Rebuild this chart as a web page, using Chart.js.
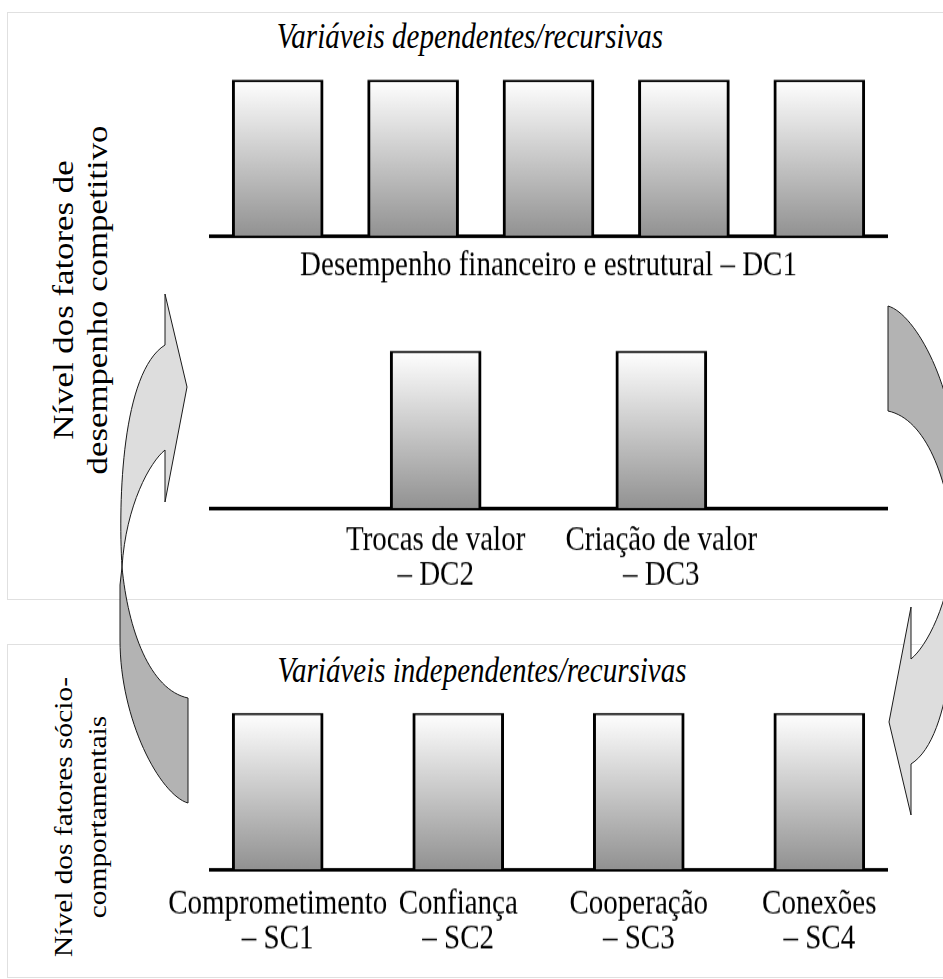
<!DOCTYPE html>
<html>
<head>
<meta charset="utf-8">
<script src="https://cdn.jsdelivr.net/npm/chart.js@4.4.0/dist/chart.umd.min.js"></script>
<style>
  body { margin: 0; width: 943px; height: 979px; position: relative; overflow: hidden; background: #fff;
         font-family: 'Liberation Serif', 'Times New Roman', serif; color: #000; }
  .panel { position: absolute; left: 7px; width: 980px; border: 1px solid #e0e0e0; }
  /* the source figure is stretched vertically, so text and charts get the same stretch */
  .box { position: absolute; left: 0; width: 943px; transform: scaleY(1.2); transform-origin: 0 0; }
  .title { position: absolute; font-style: italic; font-size: 29px; line-height: 29px; white-space: nowrap;
           transform: translateX(-50%) scaleY(1.2); transform-origin: 50% 0; }
  .ytitle { position: absolute; font-size: 29px; line-height: 34px; text-align: center; white-space: nowrap;
            transform: translate(-50%, -50%) scaleY(1.2) rotate(-90deg); }
  svg { position: absolute; left: 0; top: 0; }
</style>
</head>
<body>
<div class="panel" style="top:12px; height:586px;"></div>
<div class="panel" style="top:644px; height:332px;"></div>

<svg width="943" height="979">
  <g id="arrow" stroke="#1a1a1a" stroke-width="1">
    <path fill="#b3b3b3" d="M122,567 C128,630 150,690 188,698 L188,803 C160,795 120,720 120,640 L120,585 Z"/>
    <path fill="#dddddd" d="M165,345 L165,294 L187,387 L165,502 L165,450 C150,462 126,505 122,567 C118,500 122,372 165,345 Z"/>
  </g>
  <use href="#arrow" transform="rotate(180 538 554.5)"/>
</svg>

<div class="title" style="left:470px; top:19px;">Variáveis dependentes/recursivas</div>
<div class="title" style="left:482px; top:653px;">Variáveis independentes/recursivas</div>
<div class="ytitle" style="left:80px; top:300px;">Nível dos fatores de<br>desempenho competitivo</div>
<div class="ytitle" style="left:81px; top:817px; font-size:26px; transform: translate(-50%, -50%) scaleY(1.13) rotate(-90deg);">Nível dos fatores sócio-<br>comportamentais</div>

<div class="box" style="top:70px; height:178px;"><canvas id="dc1"></canvas></div>
<div class="box" style="top:340px; height:224px;"><canvas id="dc23"></canvas></div>
<div class="box" style="top:700px; height:229px;"><canvas id="sc"></canvas></div>

<script>
// desempenho competitivo - DC1 (5 indicadores, mesmo nivel)
const dc1Items = ['DC1-a', 'DC1-b', 'DC1-c', 'DC1-d', 'DC1-e'];
const dc1Levels = [1, 1, 1, 1, 1];
const dc1Title = 'Desempenho financeiro e estrutural – DC1';

// DC2 e DC3 (first and last slots are empty)
const dc23Labels = ['', ['Trocas de valor', '– DC2'], ['Criação de valor', '– DC3'], ''];
const dc23Levels = [null, 1, 1, null];

// fatores socio-comportamentais
const scLabels = [['Comprometimento', '– SC1'], ['Confiança', '– SC2'], ['Cooperação', '– SC3'], ['Conexões', '– SC4']];
const scLevels = [1, 1, 1, 1];

Chart.defaults.font.family = "'Liberation Serif', 'Times New Roman', serif";
Chart.defaults.color = '#000';

// white to grey fill, like the original figure
function barFill(context) {
    const area = context.chart.chartArea;
    if (!area) return '#cccccc';
    const g = context.chart.ctx.createLinearGradient(0, area.top, 0, area.bottom);
    g.addColorStop(0, '#ffffff');
    g.addColorStop(1, '#929292');
    return g;
}

function barDataset(data) {
    return {
        data: data,
        backgroundColor: barFill,
        borderColor: '#000',
        borderWidth: { top: 2, left: 3, right: 3, bottom: 0 },
        borderSkipped: 'bottom',
        barThickness: 91,
    };
}

const noGrid = { display: false, drawTicks: false };
const tickFont = { size: 29, lineHeight: 1 };

function makeOptions(padTop, xScale) {
    return {
        responsive: true,
        maintainAspectRatio: false,
        animation: false,
        layout: { padding: { left: 210, right: 56, top: padTop, bottom: 0 } },
        plugins: { legend: { display: false }, tooltip: { enabled: false } },
        scales: {
            x: xScale,
            y: { display: false, min: 0, max: 1 },
        },
    };
}

new Chart(document.getElementById('dc1'), {
    type: 'bar',
    data: { labels: dc1Items, datasets: [barDataset(dc1Levels)] },
    options: makeOptions(8.3, {
        type: 'category',
        offset: true,
        grid: noGrid,
        border: { color: '#000', width: 3 },
        ticks: { display: false },
        title: { display: true, text: dc1Title, color: '#000', font: tickFont, padding: { top: 10.7, bottom: 0 } },
    }),
});

new Chart(document.getElementById('dc23'), {
    type: 'bar',
    data: { labels: dc23Labels, datasets: [barDataset(dc23Levels)] },
    options: makeOptions(9.2, {
        type: 'category',
        offset: false,
        grid: noGrid,
        border: { color: '#000', width: 3 },
        ticks: { autoSkip: false, maxRotation: 0, padding: 13, font: tickFont },
    }),
});

new Chart(document.getElementById('sc'), {
    type: 'bar',
    data: { datasets: [barDataset(scLevels.map((v, i) => ({ x: i, y: v })))] },
    options: makeOptions(10.8, {
        type: 'linear',
        offset: false,
        min: -0.375,
        max: 3.375,
        grid: noGrid,
        border: { color: '#000', width: 3 },
        ticks: {
            stepSize: 1,
            includeBounds: false,
            autoSkip: false,
            maxRotation: 0,
            padding: 15,
            font: tickFont,
            callback: (value) => scLabels[value] || '',
        },
    }),
});
</script>
</body>
</html>
